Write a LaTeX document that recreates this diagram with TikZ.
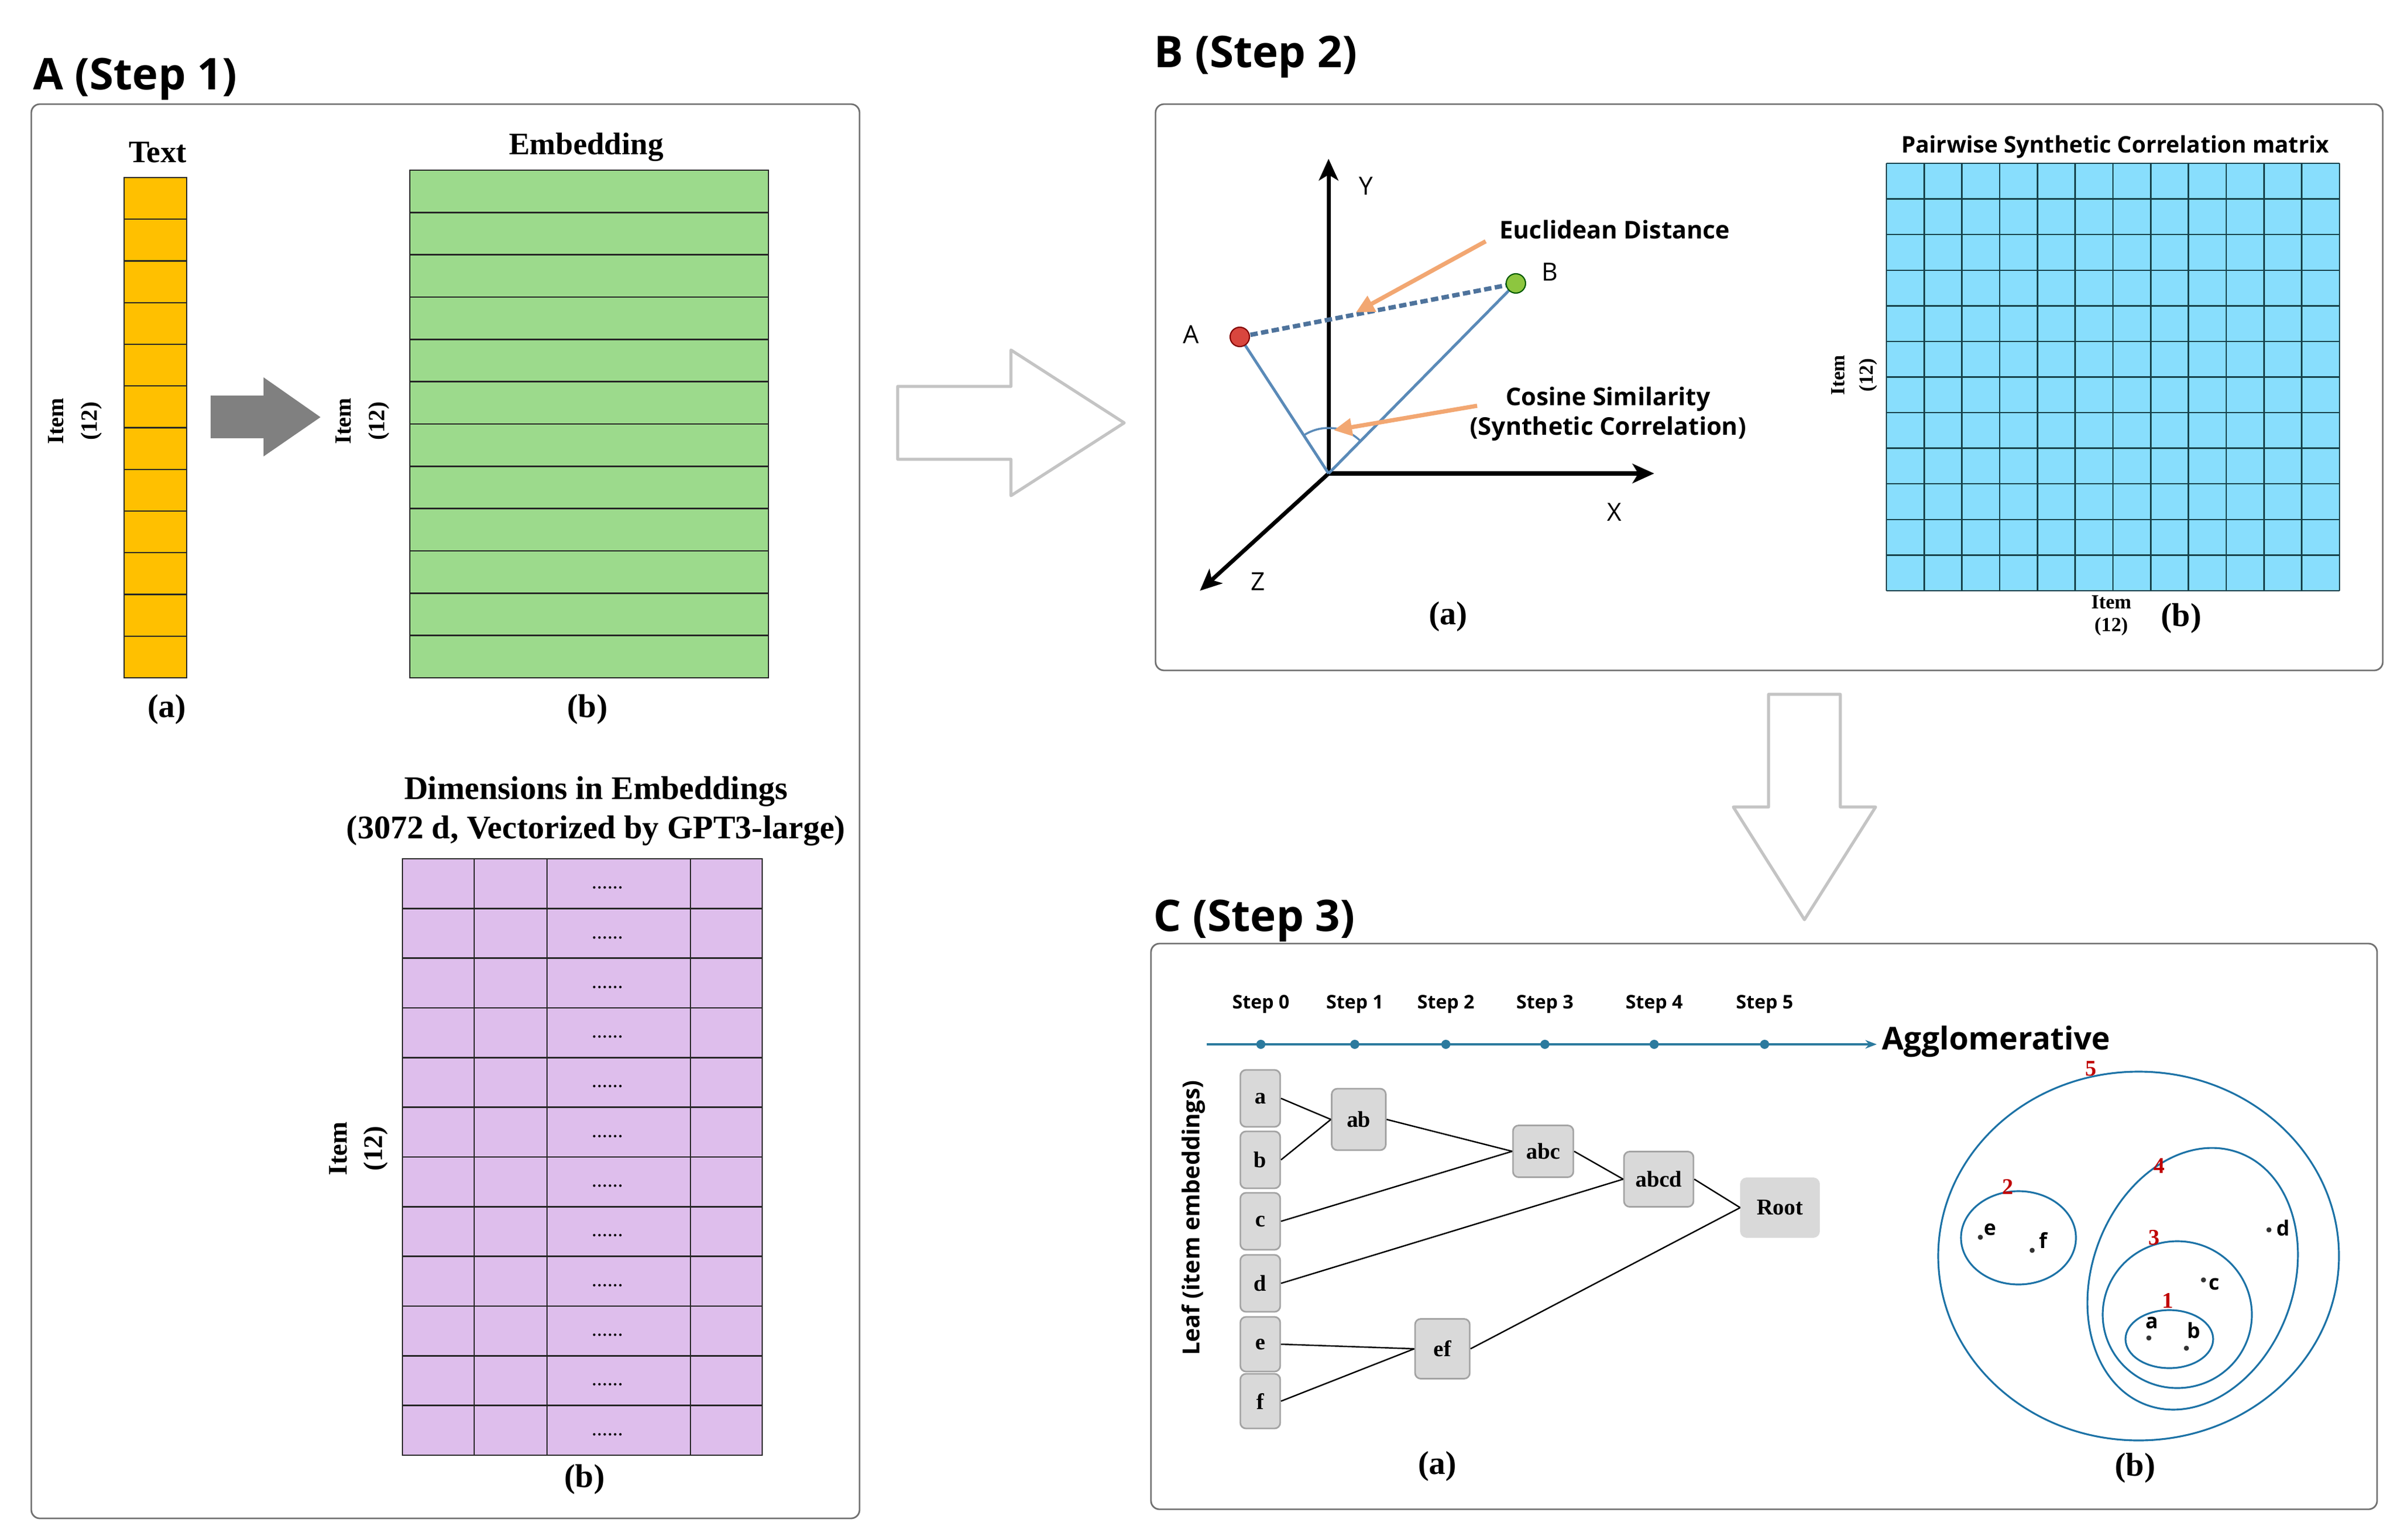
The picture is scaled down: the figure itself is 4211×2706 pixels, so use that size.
\documentclass[tikz,border=0pt]{standalone}
\usepackage{fontspec}
\setmainfont{Liberation Serif}
\newfontfamily\osans{Open Sans}
\usetikzlibrary{arrows.meta,calc}
\newcommand\myfs[2]{\fontsize{#1pt}{#2pt}\selectfont}
\definecolor{orangeC}{HTML}{FFC000}
\definecolor{greenC}{HTML}{9CDA8C}
\definecolor{purpleC}{HTML}{DEBEEC}
\definecolor{blueC}{HTML}{88DEFD}
\definecolor{gridB}{HTML}{16404A}
\definecolor{boxC}{HTML}{D9D9D9}
\definecolor{boxB}{HTML}{A3A3A3}
\definecolor{hollowC}{HTML}{C4C4C4}
\definecolor{clusC}{HTML}{1C72A6}
\definecolor{timeC}{HTML}{2B7A9E}
\definecolor{vecC}{HTML}{5A8AB8}
\definecolor{dashC}{HTML}{4E739C}
\definecolor{orangeA}{HTML}{F2A772}
\definecolor{redN}{HTML}{C00000}
\definecolor{ptRed}{HTML}{D9463E}
\definecolor{ptGreen}{HTML}{8DC63F}
\definecolor{panelC}{HTML}{707070}
\begin{document}
\begin{tikzpicture}[x=0.01cm,y=-0.01cm,
  panel/.style={draw=panelC, line width=0.8pt, rounded corners=0.15cm},
  title/.style={font=\osans\bfseries\myfs{21.8}{26}, anchor=base west, inner sep=0pt},
  sublab/.style={font=\bfseries\myfs{16.5}{20}, inner sep=0pt},
  collab/.style={font=\bfseries\myfs{15.6}{18}, inner sep=0pt},
  gridline/.style={draw=black!85, line width=0.7pt},
  hollow/.style={draw=hollowC, line width=1.5pt, line join=round},
  axisline/.style={line width=2pt, black, -{Stealth[length=0.38cm,width=0.34cm,inset=0.1cm]}},
  vec/.style={draw=vecC, line width=1.4pt},
  oarrow/.style={draw=orangeA, line width=2.1pt, -{Triangle[length=0.32cm,width=0.3cm]}},
  sanslab/.style={font=\osans\bfseries\myfs{12.2}{14.8}, inner sep=0pt, align=center},
  axlab/.style={font=\osans\myfs{12.5}{15}, inner sep=0pt},
  treebox/.style={draw=boxB, fill=boxC, line width=0.8pt, rounded corners=0.1cm, inner sep=0pt, font=\bfseries\myfs{11.3}{13}},
  treeline/.style={draw=black, line width=0.7pt},
  steplab/.style={font=\osans\bfseries\myfs{9.4}{11}, inner sep=0pt, anchor=base},
  tdot/.style={circle, fill=timeC, inner sep=0pt, minimum size=0.16cm},
  clus/.style={draw=clusC, line width=0.9pt},
  cdot/.style={circle, fill=black!80, inner sep=0pt, minimum size=0.09cm},
  clet/.style={font=\osans\bfseries\myfs{10.4}{12}, inner sep=0pt},
  rnum/.style={font=\bfseries\myfs{11.2}{12}, text=redN, inner sep=0pt}
]
\useasboundingbox (0,0) rectangle (4211,2706);
\fill[white] (0,0) rectangle (4211,2706);

% ---------------- Panel A ----------------
\node[title] (tA) at (58,158) {A (Step 1)};
\draw[panel] (55,183) rectangle (1510,2668);

% text column
\node[collab] (lText) at (277,268) {Text};
\draw[gridline, fill=orangeC] (218,312) rectangle (328,1191);
\foreach \i in {1,...,11} \draw[gridline] (218,{312+\i*73.25}) -- (328,{312+\i*73.25});
\node[font=\bfseries\myfs{11.6}{17}, align=center, rotate=90, inner sep=0pt] (iA1) at (132,740) {Item\\(12)};

% gray arrow
\fill[black!50] (370,695) -- (463,695) -- (463,663) -- (563,733) -- (463,802) -- (463,770) -- (370,770) -- cycle;

% embedding
\node[collab] (lEmb) at (1030,259) {Embedding};
\draw[gridline, fill=greenC] (720,299) rectangle (1350,1191);
\foreach \i in {1,...,11} \draw[gridline] (720,{299+\i*74.33}) -- (1350,{299+\i*74.33});
\node[font=\bfseries\myfs{11.6}{17}, align=center, rotate=90, inner sep=0pt] (iA2) at (637,740) {Item\\(12)};

\node[sublab] (aA) at (293,1247) {(a)};
\node[sublab] (bA) at (1032,1247) {(b)};

% dimensions grid
\node[font=\bfseries\myfs{16.5}{19.6}, align=center, inner sep=0pt] (lDim) at (1047,1425) {Dimensions in Embeddings\\(3072 d, Vectorized by GPT3-large)};
\draw[gridline, fill=purpleC] (707,1509) rectangle (1339,2557);
\foreach \i in {1,...,11} \draw[gridline] (707,{1509+\i*87.33}) -- (1339,{1509+\i*87.33});
\foreach \xx in {833,961,1213} \draw[gridline] (\xx,1509) -- (\xx,2557);
\foreach \i in {0,...,11} \node[font=\myfs{10.5}{12}, inner sep=0pt] (dots\i) at (1067,{1560+\i*87.33}) {......};
\node[font=\bfseries\myfs{13.4}{17.5}, align=center, rotate=90, inner sep=0pt] (iA3) at (630,2018) {Item\\(12)};
\node[sublab] (bA2) at (1027,2600) {(b)};

% big hollow arrow right
\draw[hollow] (1577,679) -- (1776,679) -- (1776,615) -- (1975,743) -- (1776,871) -- (1776,807) -- (1577,807) -- cycle;

% ---------------- Panel B ----------------
\node[title] (tB) at (2027,119) {B (Step 2)};
\draw[panel] (2030,183) rectangle (4186,1178);

\coordinate (O) at (2334,832);
\coordinate (Ytop) at (2334,279);
\coordinate (Xend) at (2906,832);
\coordinate (Zend) at (2108,1038);
\coordinate (Ac) at (2178,592);
\coordinate (Bc) at (2663,498);
\draw[axisline] (O) -- (Ytop);
\draw[axisline] (O) -- (Xend);
\draw[axisline] (O) -- (Zend);
\draw[vec] (O) -- (Ac);
\draw[vec] (O) -- (Bc);
\draw[draw=dashC, line width=2.2pt, dash pattern=on 0.13cm off 0.06cm] (Ac) -- (Bc);
\draw[vec, line width=1pt] ($(O)+(-45.4:80)$) arc[start angle=-45.4, end angle=-123, radius=80];
\draw[vec, line width=1pt] ($(O)+(-123:72)$) -- ($(O)+(-123:88)$);
\draw[vec, line width=1pt] ($(O)+(-45.4:72)$) -- ($(O)+(-45.4:88)$);
\node[circle, fill=ptRed, draw=red!50!black, line width=0.6pt, minimum size=0.34cm, inner sep=0pt] (ptA) at (Ac) {};
\node[circle, fill=ptGreen, draw=green!35!black, line width=0.6pt, minimum size=0.34cm, inner sep=0pt] (ptB) at (Bc) {};
\node[axlab] (lA) at (2092,588) {A};
\node[axlab] (lB) at (2723,478) {B};
\node[axlab] (lY) at (2400,327) {Y};
\node[axlab] (lX) at (2836,900) {X};
\node[axlab] (lZ) at (2210,1022) {Z};

\node[sanslab] (lEuc) at (2837,403) {Euclidean Distance};
\coordinate (eu1) at (2610,424);
\coordinate (eu2) at (2382,549);
\draw[oarrow] (eu1) -- (eu2);
\node[sanslab] (lCos) at (2825,727) {Cosine Similarity\\(Synthetic Correlation)};
\coordinate (co1) at (2595,713);
\coordinate (co2) at (2343,756);
\draw[oarrow] (co1) -- (co2);
\node[sublab] (aB) at (2544,1084) {(a)};

% correlation matrix
\node[font=\osans\bfseries\myfs{11.4}{13}, inner sep=0pt] (lPair) at (3716,258) {Pairwise Synthetic Correlation matrix};
\fill[blueC] (3314,287) rectangle (4110,1038);
\foreach \i in {0,...,12} {
  \draw[draw=gridB, line width=0.7pt] ({3314+\i*66.333},287) -- ({3314+\i*66.333},1038);
  \draw[draw=gridB, line width=0.7pt] (3314,{287+\i*62.583}) -- (4110,{287+\i*62.583});
}
\node[font=\bfseries\myfs{10}{14.2}, align=center, rotate=90, inner sep=0pt] (iB1) at (3258,659) {Item\\(12)};
\node[font=\bfseries\myfs{10}{11.4}, align=center, inner sep=0pt] (iB2) at (3709,1082) {Item\\(12)};
\node[sublab] (bB) at (3832,1087) {(b)};

% big hollow arrow down
\draw[hollow] (3107,1220) -- (3233,1220) -- (3233,1418) -- (3295,1418) -- (3170,1616) -- (3045,1418) -- (3107,1418) -- cycle;

% ---------------- Panel C ----------------
\node[title] (tC) at (2026,1636) {C (Step 3)};
\draw[panel] (2022,1658) rectangle (4176,2652);

\coordinate (tlstart) at (2120,1835);
\coordinate (tlend) at (3297,1835);
\draw[draw=timeC, line width=1.1pt, -{Stealth[length=0.2cm,width=0.15cm]}] (tlstart) -- (tlend);
\foreach \xx/\n in {2215/0,2380/1,2540/2,2714/3,2906/4,3100/5} {
  \node[tdot] (td\n) at (\xx,1835) {};
  \node[steplab] (st\n) at (\xx,1772) {Step \n};
}
\node[font=\osans\bfseries\myfs{15.7}{18}, anchor=west, inner sep=0pt] (lAgg) at (3306,1830) {Agglomerative};

\node[font=\osans\bfseries\myfs{11.7}{14}, rotate=90, inner sep=0pt] (lLeaf) at (2097,2140) {Leaf (item embeddings)};

\node[treebox, minimum width=0.7cm, minimum height=1.0cm] (na) at (2214,1930) {a};
\node[treebox, minimum width=0.7cm, minimum height=1.0cm] (nb) at (2214,2038) {b};
\node[treebox, minimum width=0.7cm, minimum height=1.0cm] (nc) at (2214,2146) {c};
\node[treebox, minimum width=0.7cm, minimum height=1.0cm] (nd) at (2214,2255) {d};
\node[treebox, minimum width=0.7cm, minimum height=0.96cm] (ne) at (2214,2362) {e};
\node[treebox, minimum width=0.7cm, minimum height=0.96cm] (nf) at (2214,2462) {f};
\node[treebox, minimum width=0.95cm, minimum height=1.08cm] (nab) at (2387,1967) {ab};
\node[treebox, minimum width=1.06cm, minimum height=0.91cm] (nabc) at (2711,2023) {abc};
\node[treebox, minimum width=1.22cm, minimum height=0.97cm] (nabcd) at (2914,2072) {abcd};
\node[treebox, draw=boxC, minimum width=1.37cm, minimum height=1.03cm] (nroot) at (3127,2122) {Root};
\node[treebox, minimum width=0.96cm, minimum height=1.05cm] (nef) at (2534,2370) {ef};

\draw[treeline] (na.east) -- (nab.west);
\draw[treeline] (nb.east) -- (nab.west);
\draw[treeline] (nab.east) -- (nabc.west);
\draw[treeline] (nc.east) -- (nabc.west);
\draw[treeline] (nabc.east) -- (nabcd.west);
\draw[treeline] (nd.east) -- (nabcd.west);
\draw[treeline] (nabcd.east) -- (nroot.west);
\draw[treeline] (ne.east) -- (nef.west);
\draw[treeline] (nf.east) -- (nef.west);
\draw[treeline] (nef.east) -- (nroot.west);

\node[sublab] (aC) at (2525,2577) {(a)};

% clusters
\draw[clus] (3757,2207) ellipse [x radius=352, y radius=324];
\draw[clus] (3546,2175) ellipse [x radius=101, y radius=82];
\draw[clus, rotate around={-20:(3852,2247)}] (3852,2247) ellipse [x radius=177, y radius=236];
\draw[clus] (3825,2310) ellipse [x radius=131, y radius=129];
\draw[clus] (3811,2353) ellipse [x radius=77, y radius=51];

\node[rnum] (n5) at (3673,1878) {5};
\node[rnum] (n2) at (3527,2085) {2};
\node[rnum] (n4) at (3793,2049) {4};
\node[rnum] (n3) at (3784,2175) {3};
\node[rnum] (n1) at (3808,2285) {1};

\node[cdot] (pe) at (3479,2174) {};
\node[clet] (le) at (3496,2160) {e};
\node[cdot] (pf) at (3570,2197) {};
\node[clet] (lf) at (3590,2179) {f};
\node[cdot] (pd) at (3986,2161) {};
\node[clet] (ld) at (4011,2158) {d};
\node[cdot] (pc) at (3871,2249) {};
\node[clet] (lc) at (3890,2256) {c};
\node[cdot] (pa) at (3775,2351) {};
\node[clet] (la) at (3781,2324) {a};
\node[cdot] (pb) at (3841,2369) {};
\node[clet] (lb) at (3854,2338) {b};

\node[sublab] (bC) at (3751,2580) {(b)};
\end{tikzpicture}
\end{document}
